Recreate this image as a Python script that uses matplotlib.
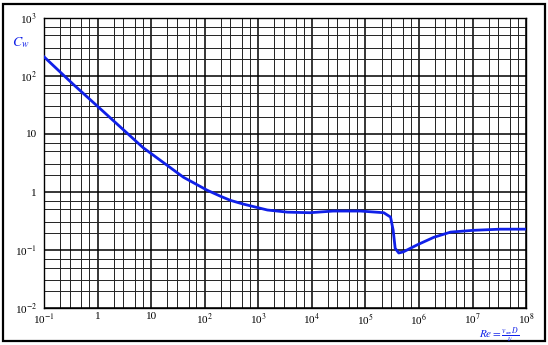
import matplotlib
matplotlib.use("Agg")
import matplotlib.pyplot as plt
import matplotlib.ticker as mticker
from matplotlib.patches import Rectangle

# Drag coefficient of a circular cylinder vs Reynolds number
reynolds = [0.1, 0.35, 1.0, 7.1, 40, 112, 195, 300, 525, 1480, 3500, 9300,
            25000, 81000, 2.2e5, 2.95e5, 3.3e5, 3.6e5, 4.2e5, 5.1e5, 9.3e5,
            1.9e6, 3.9e6, 1.05e7, 3.3e7, 1e8]
drag = [214, 72, 30, 5.8, 1.8, 1.07, 0.85, 0.72, 0.62, 0.49, 0.45, 0.44,
        0.47, 0.47, 0.44, 0.37, 0.22, 0.107, 0.089, 0.093, 0.123, 0.166,
        0.204, 0.219, 0.229, 0.229]

x_ticks = [1e-1, 1, 10, 1e2, 1e3, 1e4, 1e5, 1e6, 1e7, 1e8]
x_labels = ["10$^{-1}$", "1", "10", "10$^{2}$", "10$^{3}$", "10$^{4}$",
            "10$^{5}$", "10$^{6}$", "10$^{7}$", "10$^{8}$"]
y_ticks = [1e-2, 1e-1, 1, 10, 1e2, 1e3]
y_labels = ["10$^{-2}$", "10$^{-1}$", "1", "10", "10$^{2}$", "10$^{3}$"]

BLUE = "#1020e8"

plt.rcParams["font.family"] = ["Liberation Serif", "DejaVu Serif"]
plt.rcParams["mathtext.fontset"] = "stix"

fig = plt.figure(figsize=(5.48, 3.45), dpi=100, facecolor="white")
ax = fig.add_axes([0.0803, 0.107, 0.8797, 0.841])

ax.set_xscale("log")
ax.set_yscale("log")
ax.set_xlim(1e-1, 1e8)
ax.set_ylim(1e-2, 1e3)

ax.set_xticks(x_ticks)
ax.set_xticklabels(x_labels, fontsize=8)
ax.set_yticks(y_ticks)
ax.set_yticklabels(y_labels, fontsize=8)
ax.xaxis.set_minor_locator(mticker.LogLocator(base=10, subs=[2, 3, 5, 7]))
ax.yaxis.set_minor_locator(mticker.LogLocator(base=10, subs=[2, 3, 5, 7]))
ax.xaxis.set_minor_formatter(mticker.NullFormatter())
ax.yaxis.set_minor_formatter(mticker.NullFormatter())
ax.tick_params(which="both", length=0)
ax.tick_params(axis="x", pad=3)
ax.tick_params(axis="y", pad=5)

ax.grid(True, which="major", color="black", linewidth=1.1)
ax.grid(True, which="minor", color="#222222", linewidth=0.7)
ax.set_axisbelow(True)
for s in ax.spines.values():
    s.set_color("black")
    s.set_linewidth(1.0)

ax.plot(reynolds, drag, color=BLUE, linewidth=2.0, zorder=3)

fig.text(0.022, 0.865, r"$C_w$", color=BLUE, fontsize=10)
fig.text(0.874, 0.02, r"$Re = \frac{v_\infty\, D}{\nu}$", color=BLUE,
         fontsize=8)

fig.patches.append(Rectangle((0.006, 0.012), 0.988, 0.976,
                             transform=fig.transFigure, fill=False,
                             edgecolor="black", linewidth=1.6))

fig.savefig("out.png", dpi=100, facecolor="white")
